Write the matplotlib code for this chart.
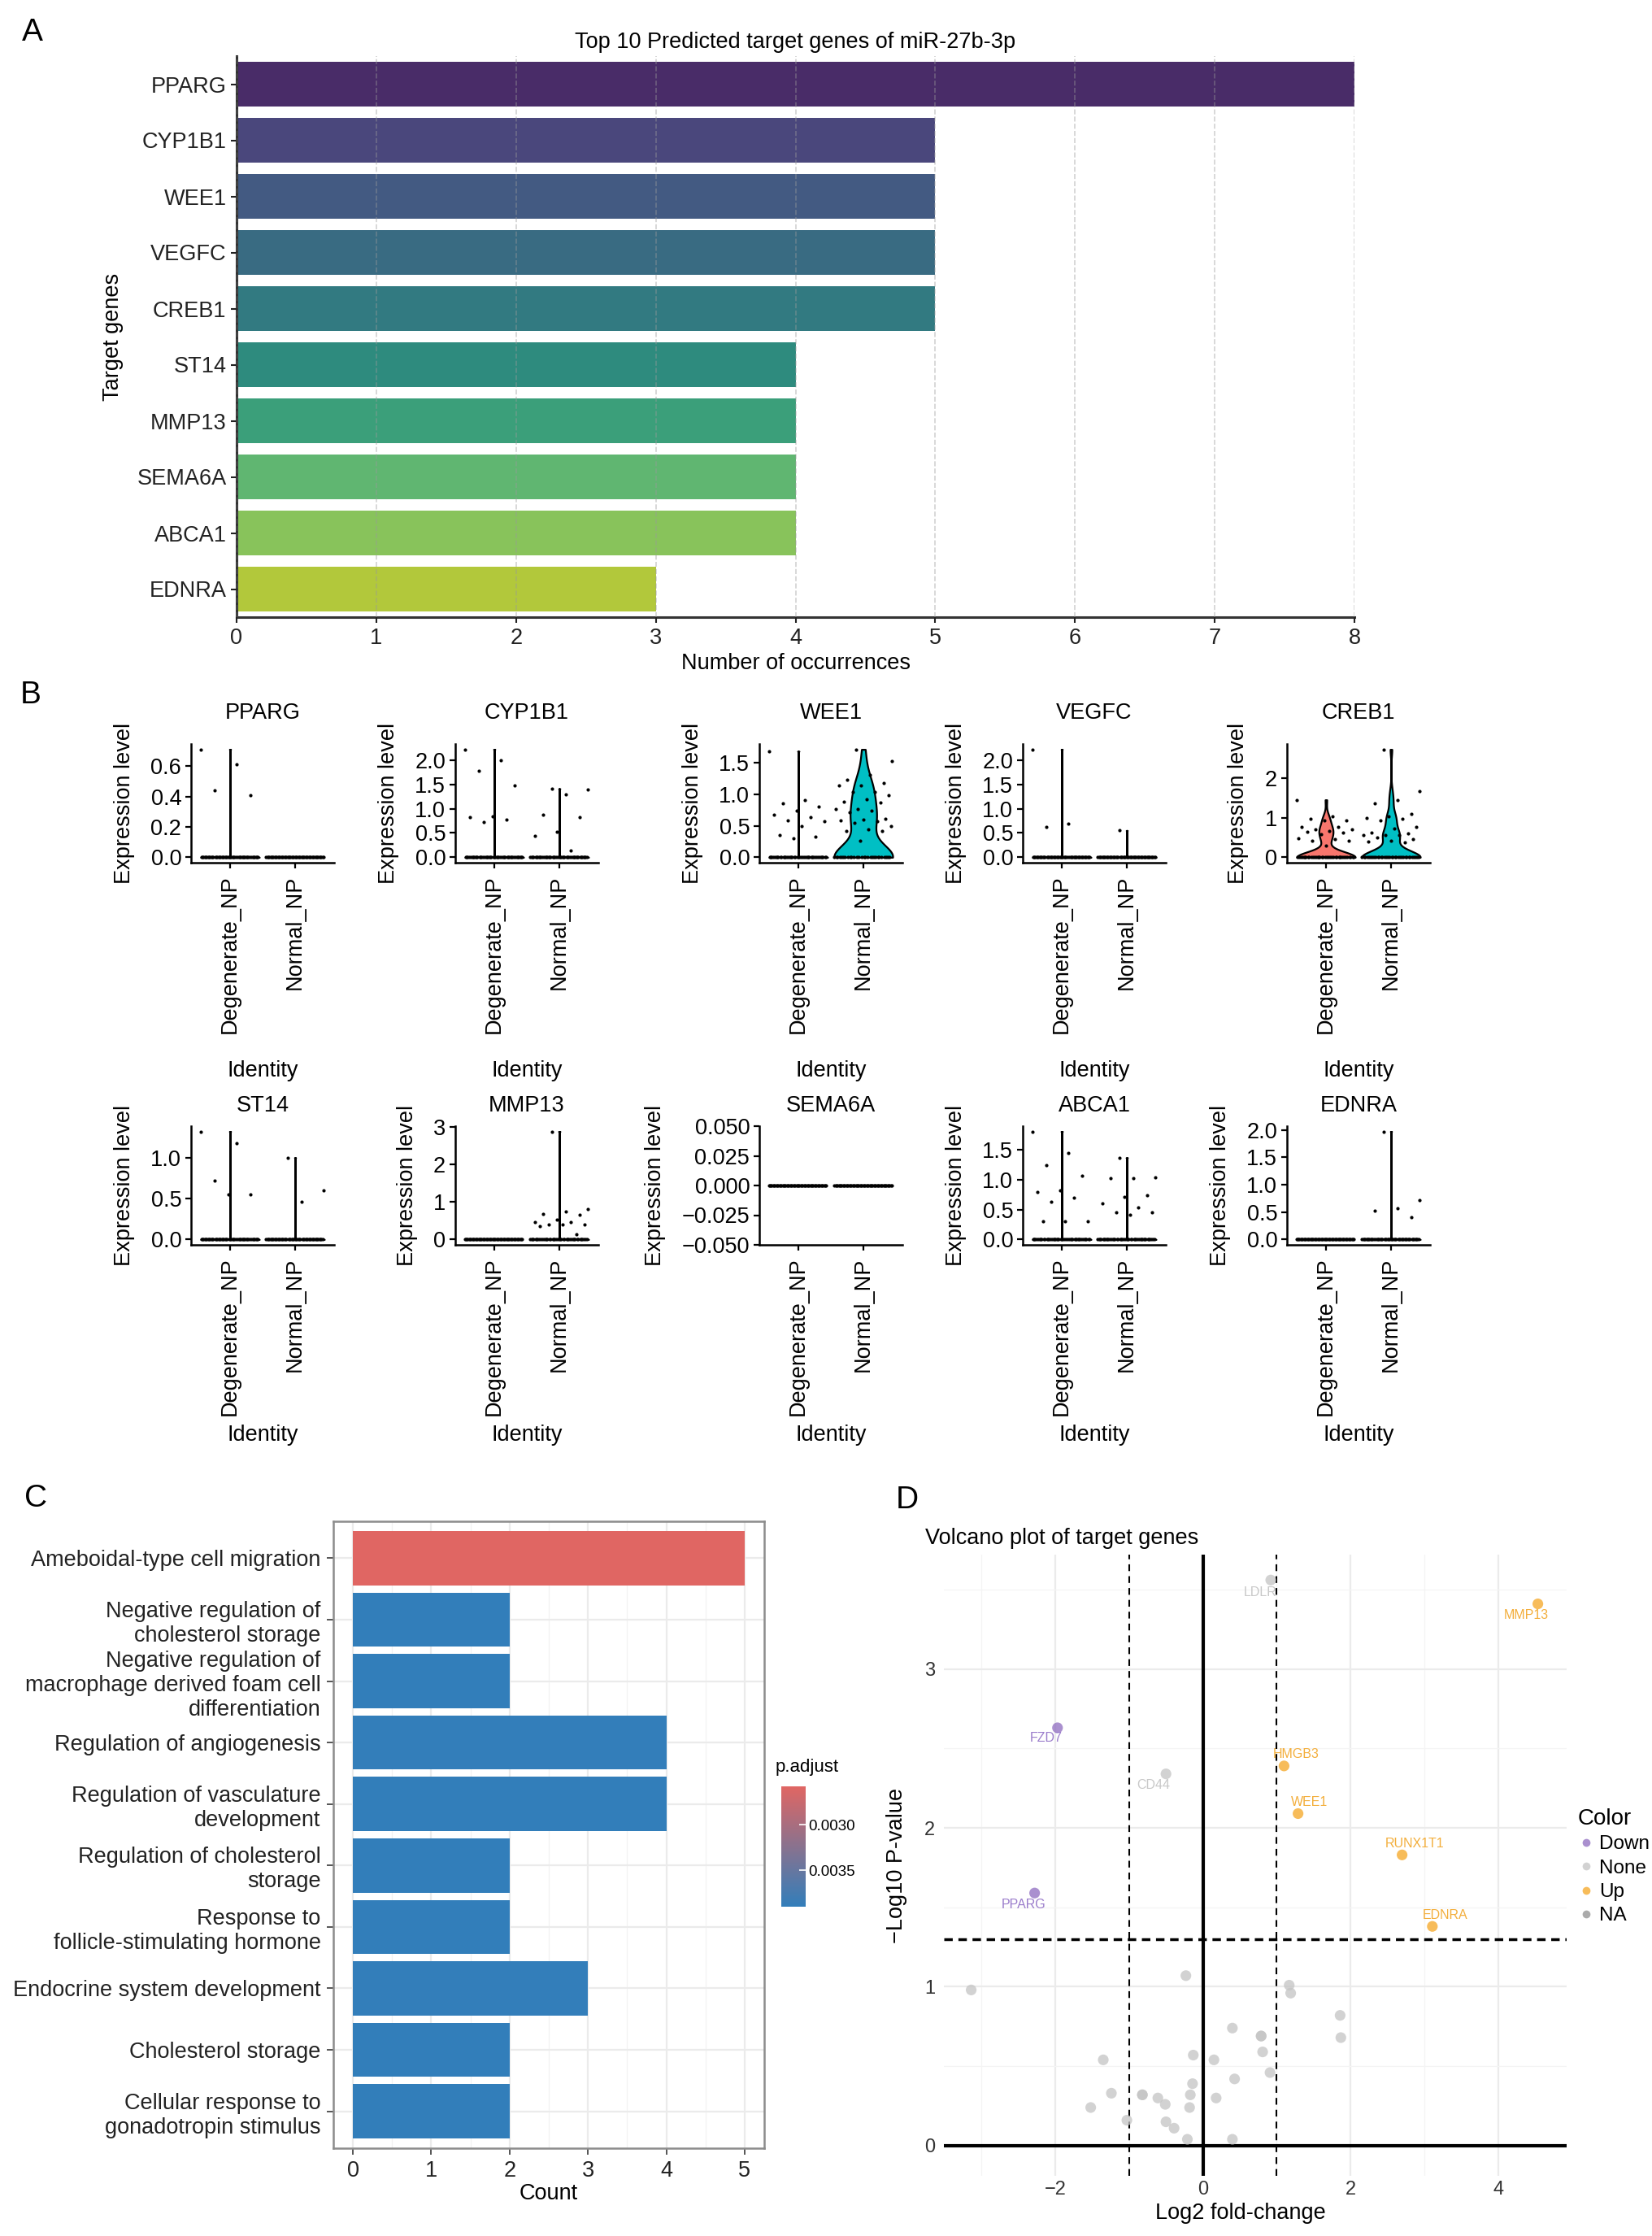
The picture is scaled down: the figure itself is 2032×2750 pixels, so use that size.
import numpy as np
import matplotlib
matplotlib.use("Agg")
import matplotlib.pyplot as plt
import seaborn as sns
from matplotlib.colors import LinearSegmentedColormap, Normalize
from matplotlib.cm import ScalarMappable
from matplotlib.lines import Line2D

plt.rcParams['font.family'] = ['Liberation Sans', 'DejaVu Sans']

W, H = 2032, 2750

# ---------------- data ----------------
# A: predicted targets
target_genes = ['PPARG', 'CYP1B1', 'WEE1', 'VEGFC', 'CREB1',
                'ST14', 'MMP13', 'SEMA6A', 'ABCA1', 'EDNRA']
occurrences = [8, 5, 5, 5, 5, 4, 4, 4, 4, 3]

# B: single cell expression (non-zero cells only, rest are zeros)
groups = ['Degenerate_NP', 'Normal_NP']
n_cells = [55, 55]
degenerate_nonzero = {
    'PPARG': [0.71, 0.61, 0.44, 0.41],
    'CYP1B1': [2.22, 2.0, 1.78, 1.47, 0.85, 0.82, 0.77, 0.72],
    'WEE1': [1.68, 0.91, 0.85, 0.80, 0.74, 0.67, 0.64, 0.58, 0.57, 0.49, 0.35, 0.33, 0.30],
    'VEGFC': [2.22, 0.69, 0.63],
    'CREB1': [1.46, 1.05, 0.98, 0.94, 0.94, 0.77, 0.77, 0.70, 0.70, 0.67, 0.65,
              0.62, 0.58, 0.48, 0.46, 0.43, 0.43, 0.30],
    'ST14': [1.32, 1.18, 0.72, 0.55, 0.55],
    'MMP13': [],
    'SEMA6A': [],
    'ABCA1': [1.81, 1.45, 1.25, 1.07, 0.82, 0.80, 0.70, 0.63, 0.31, 0.31, 0.31],
    'EDNRA': [],
}
normal_nonzero = {
    'PPARG': [],
    'CYP1B1': [1.41, 1.39, 1.30, 0.87, 0.83, 0.53, 0.44, 0.14],
    'WEE1': [1.71, 1.52, 1.31, 1.23, 1.18, 1.14, 1.14, 1.04, 1.03, 0.98, 0.92, 0.88,
             0.87, 0.77, 0.77, 0.74, 0.71, 0.61, 0.60, 0.59, 0.57, 0.55, 0.50, 0.44,
             0.42, 0.42, 0.26],
    'VEGFC': [0.55],
    'CREB1': [2.74, 1.68, 1.46, 1.38, 1.10, 1.03, 0.99, 0.98, 0.94, 0.77, 0.74,
              0.62, 0.60, 0.57, 0.57, 0.57, 0.51, 0.46, 0.43, 0.41, 0.37],
    'ST14': [1.0, 0.60, 0.46],
    'MMP13': [2.88, 0.82, 0.75, 0.68, 0.66, 0.53, 0.46, 0.46, 0.39, 0.39, 0.39, 0.35, 0.13],
    'SEMA6A': [],
    'ABCA1': [1.37, 1.04, 1.03, 1.03, 0.74, 0.71, 0.60, 0.53, 0.45, 0.45, 0.42],
    'EDNRA': [1.97, 0.72, 0.57, 0.53, 0.41],
}
expr_ticks = {
    'PPARG': [0, 0.2, 0.4, 0.6],
    'CYP1B1': [0, 0.5, 1.0, 1.5, 2.0],
    'WEE1': [0, 0.5, 1.0, 1.5],
    'VEGFC': [0, 0.5, 1.0, 1.5, 2.0],
    'CREB1': [0, 1, 2],
    'ST14': [0, 0.5, 1.0],
    'MMP13': [0, 1, 2, 3],
    'SEMA6A': [-0.05, -0.025, 0, 0.025, 0.05],
    'ABCA1': [0, 0.5, 1.0, 1.5],
    'EDNRA': [0, 0.5, 1.0, 1.5, 2.0],
}
tick_decimals = {'PPARG': 1, 'CYP1B1': 1, 'WEE1': 1, 'VEGFC': 1, 'CREB1': 0,
                 'ST14': 1, 'MMP13': 0, 'SEMA6A': 3, 'ABCA1': 1, 'EDNRA': 1}

# C: GO enrichment
go_terms = ['Ameboidal-type cell migration',
            'Negative regulation of\ncholesterol storage',
            'Negative regulation of\nmacrophage derived foam cell\ndifferentiation',
            'Regulation of angiogenesis',
            'Regulation of vasculature\ndevelopment',
            'Regulation of cholesterol\nstorage',
            'Response to\nfollicle-stimulating hormone',
            'Endocrine system development',
            'Cholesterol storage',
            'Cellular response to\ngonadotropin stimulus']
go_counts = [5, 2, 2, 4, 4, 2, 2, 3, 2, 2]
go_padjust = [0.00258, 0.00390, 0.00390, 0.00389, 0.00390, 0.00390, 0.00390,
              0.00389, 0.00390, 0.00390]

# D: volcano
volcano_genes = ['LDLR', 'MMP13', 'FZD7', 'HMGB3', 'CD44', 'WEE1', 'RUNX1T1', 'PPARG', 'EDNRA'] + [''] * 30
log2fc = [0.92, 4.54, -1.97, 1.10, -0.50, 1.29, 2.70, -2.28, 3.11,
          -3.14, -0.23, 1.17, 1.19, 1.86, 1.87, 0.40, 0.79, 0.79, 0.81, 0.91, 0.43,
          -0.13, 0.15, -1.35, -0.14, -1.24, -0.82, -0.82, -0.61, -0.51, -0.17, -0.18,
          0.18, -1.52, -1.03, -0.50, -0.39, -0.21, 0.40]
neglog10p = [3.56, 3.41, 2.63, 2.39, 2.34, 2.09, 1.83, 1.59, 1.38,
             0.98, 1.07, 1.01, 0.96, 0.82, 0.68, 0.74, 0.69, 0.69, 0.59, 0.46, 0.42,
             0.57, 0.54, 0.54, 0.39, 0.33, 0.32, 0.32, 0.30, 0.26, 0.32, 0.24,
             0.30, 0.24, 0.16, 0.15, 0.11, 0.04, 0.04]
volcano_status = ['None', 'Up', 'Down', 'Up', 'None', 'Up', 'Up', 'Down', 'Up'] + ['None'] * 30

# ---------------- figure ----------------
fig = plt.figure(figsize=(W / 100, H / 100), dpi=100)


def px_axes(left, top, right, bottom):
    return fig.add_axes([left / W, 1 - bottom / H, (right - left) / W, (bottom - top) / H])


def ftext(x, y, s, **kw):
    return fig.text(x / W, 1 - y / H, s, **kw)


FS = 19.5

# panel letters
for letter, (lx, ly) in zip('ABCD', [(40, 40), (38, 855), (44, 1843), (1116, 1845)]):
    ftext(lx, ly, letter, fontsize=28, ha='center', va='center')

# ---------------- A ----------------
axA = px_axes(291, 69, 1666, 759)
pal = [sns.desaturate(c, 0.75) for c in sns.color_palette('viridis', len(target_genes))]
ypos = np.arange(len(target_genes))
axA.barh(ypos, occurrences, height=0.8, color=pal, zorder=1)
axA.set_ylim(len(target_genes) - 0.5, -0.5)
axA.set_xlim(0, 8)
axA.set_yticks(ypos)
axA.set_yticklabels(target_genes)
axA.set_xticks(range(9))
axA.xaxis.grid(True, ls='--', color='#9a9a9a', alpha=0.45, lw=1.2, zorder=2)
axA.set_axisbelow(False)
for s in ['top', 'right']:
    axA.spines[s].set_visible(False)
for s in ['left', 'bottom']:
    axA.spines[s].set_color('#333333')
    axA.spines[s].set_linewidth(2.2)
axA.tick_params(labelsize=FS, colors='#222222', length=5, width=1.5, pad=4)
axA.set_title('Top 10 Predicted target genes of miR-27b-3p', fontsize=FS, pad=7)
axA.set_xlabel('Number of occurrences', fontsize=FS, labelpad=4)
axA.set_ylabel('Target genes', fontsize=FS, labelpad=12)

# ---------------- B ----------------
def r_bandwidth(x):
    sd = np.std(x, ddof=1)
    q75, q25 = np.percentile(x, [75, 25])
    lo = max(min(sd, (q75 - q25) / 1.34), 1e-5)
    return 0.9 * lo * len(x) ** -0.2


def draw_violin(ax, vals, pos, color):
    if np.ptp(vals) == 0:
        return
    grid = np.linspace(vals.min(), vals.max(), 600)
    bw = r_bandwidth(vals)
    dens = np.exp(-0.5 * ((grid[:, None] - vals[None, :]) / bw) ** 2).sum(1)
    half = 0.45 * dens / dens.max()
    ax.fill_betweenx(grid, pos - half, pos + half, facecolor=color,
                     edgecolor='black', linewidth=1.6, zorder=2)


group_colors = ['#F8766D', '#00BFC4']
b_lefts = [235, 560, 934, 1258, 1583]
b_rows = [(915, 1061, 877, 1317), (1385, 1531, 1360, 1765)]
for i, gene in enumerate(target_genes):
    r, c = divmod(i, 5)
    top, bottom, title_y, ident_y = b_rows[r]
    left = b_lefts[c]
    ax = px_axes(left, top, left + 176, bottom)
    ymax = 0.0
    for gi, (nz_dict, n) in enumerate(zip([degenerate_nonzero, normal_nonzero], n_cells)):
        pos = gi + 1
        nz = np.array(nz_dict[gene], dtype=float)
        vals = np.concatenate([nz, np.zeros(n - len(nz))])
        if len(nz):
            ymax = max(ymax, nz.max())
        draw_violin(ax, vals, pos, group_colors[gi])
        jit = ((np.arange(n) * 0.618034 + 0.37 * gi) % 1 - 0.5) * 0.9
        ax.scatter(pos + jit, vals, s=9, color='black', linewidths=0, zorder=3)
    ax.set_xlim(0.4, 2.6)
    if ymax == 0:
        ax.set_ylim(-0.05, 0.05)
    else:
        ax.set_ylim(-0.05 * ymax, 1.05 * ymax)
    ticks = expr_ticks[gene]
    ax.set_yticks(ticks)
    ax.set_yticklabels([f'{t:.{tick_decimals[gene]}f}'.replace('-', '\u2212') for t in ticks])
    ax.set_xticks([1, 2])
    ax.set_xticklabels(groups, rotation=90, va='top')
    for s in ['top', 'right']:
        ax.spines[s].set_visible(False)
    for s in ['left', 'bottom']:
        ax.spines[s].set_linewidth(1.8)
    ax.tick_params(labelsize=FS, length=5, width=1.6, colors='black')
    ax.tick_params(axis='x', pad=6)
    ax.set_ylabel('Expression level', fontsize=FS, labelpad=14)
    ftext(left + 88, title_y, gene, fontsize=FS, ha='center', va='center')
    ftext(left + 88, ident_y, 'Identity', fontsize=FS, ha='center', va='center')

# ---------------- C ----------------
axC = px_axes(410, 1871, 940, 2642)
cmap = LinearSegmentedColormap.from_list('padj', ['#e06663', '#327eba'])
pnorm = Normalize(vmin=min(go_padjust), vmax=max(go_padjust))
yc = np.arange(len(go_terms))
axC.barh(yc, go_counts, height=0.88, color=[cmap(pnorm(p)) for p in go_padjust], zorder=2)
axC.set_ylim(len(go_terms) - 0.4, -0.6)
axC.set_xlim(-0.25, 5.25)
axC.set_yticks(yc)
axC.set_yticklabels(go_terms, fontsize=FS, color='#222222', linespacing=1.2)
axC.set_xticks(range(6))
axC.set_xticks(np.arange(0.5, 5, 1), minor=True)
axC.grid(True, which='major', color='#ebebeb', lw=1.6, zorder=0)
axC.grid(True, which='minor', axis='x', color='#f2f2f2', lw=0.9, zorder=0)
axC.set_axisbelow(True)
for s in axC.spines.values():
    s.set_color('#8c8c8c')
    s.set_linewidth(1.8)
axC.tick_params(which='major', labelsize=FS, length=6, width=1.4, color='#555555', pad=5)
axC.tick_params(which='minor', length=0)
axC.tick_params(axis='x', labelcolor='#222222')
axC.set_xlabel('Count', fontsize=FS, labelpad=1)

cax = px_axes(961, 2197, 991, 2345)
cb = fig.colorbar(ScalarMappable(norm=pnorm, cmap=cmap), cax=cax)
cax.invert_yaxis()
cb.outline.set_visible(False)
cb.set_ticks([0.0030, 0.0035])
cb.set_ticklabels(['0.0030', '0.0035'])
cax.tick_params(direction='in', color='white', length=6, width=1.2, labelsize=13.5, pad=2)
ftext(954, 2174, 'p.adjust', fontsize=16, ha='left', va='center')

# ---------------- D ----------------
axD = px_axes(1161, 1912, 1927, 2676)
status_colors = {'Down': '#8e6bbf', 'None': '#c4c4c4', 'Up': '#f5a623', 'NA': '#8f8f8f'}
text_colors = {'Down': '#9a7ccb', 'None': '#c8c8c8', 'Up': '#f3ae3b'}
label_offsets = {'LDLR': (-9, -11), 'MMP13': (-10, -10), 'FZD7': (-10, -9),
                 'HMGB3': (11, 10), 'CD44': (-11, -10), 'WEE1': (10, 10),
                 'RUNX1T1': (11, 10), 'PPARG': (-10, -10), 'EDNRA': (11, 10)}
axD.set_xlim(-3.51, 4.93)
axD.set_ylim(-0.19, 3.72)
axD.set_xticks([-2, 0, 2, 4])
axD.set_yticks([0, 1, 2, 3])
axD.set_xticks([-3, -1, 1, 3], minor=True)
axD.set_yticks([0.5, 1.5, 2.5, 3.5], minor=True)
axD.grid(True, which='major', color='#ebebeb', lw=1.6, zorder=0)
axD.grid(True, which='minor', color='#f4f4f4', lw=0.9, zorder=0)
axD.set_axisbelow(True)
for s in axD.spines.values():
    s.set_visible(False)
axD.tick_params(which='both', length=0, labelsize=17, colors='#333333')
axD.tick_params(axis='y', pad=8)
axD.tick_params(axis='x', pad=4)
axD.axvline(0, color='black', lw=3, zorder=1)
axD.axhline(0, color='black', lw=3, zorder=1)
for xv in (-1, 1):
    axD.axvline(xv, color='black', lw=1.5, ls=(0, (4, 3)), zorder=1)
axD.axhline(-np.log10(0.05), color='black', lw=2.5, ls=(0, (3, 2)), zorder=1)
axD.scatter(log2fc, neglog10p, s=90, c=[status_colors[s] for s in volcano_status],
            alpha=0.75, linewidths=0, zorder=3)
for g, x, y, st in zip(volcano_genes, log2fc, neglog10p, volcano_status):
    if g:
        dx, dy = label_offsets[g]
        axD.annotate(g, (x, y), xytext=(dx, dy), textcoords='offset points',
                     ha='center', va='center', fontsize=11.5, color=text_colors[st], zorder=4)
ftext(1138, 1892, 'Volcano plot of target genes', fontsize=FS, ha='left', va='center')
ftext(1526, 2722, 'Log2 fold-change', fontsize=FS, ha='center', va='center')
ftext(1103, 2294, '\u2212Log10 P-value', fontsize=FS, ha='center', va='center', rotation=90)

handles = [Line2D([], [], ls='', marker='o', markersize=7, alpha=0.75,
                  markerfacecolor=status_colors[k], markeredgewidth=0)
           for k in ['Down', 'None', 'Up', 'NA']]
fig.legend(handles, ['Down', 'None', 'Up', 'NA'], title='Color', loc='upper left',
           bbox_to_anchor=(1928 / W, 1 - 2212 / H), frameon=False, fontsize=17.5,
           title_fontsize=20, handletextpad=0.2, labelspacing=0.3, borderpad=0,
           handlelength=0.9, alignment='left')

fig.savefig('out.png', dpi=100)
